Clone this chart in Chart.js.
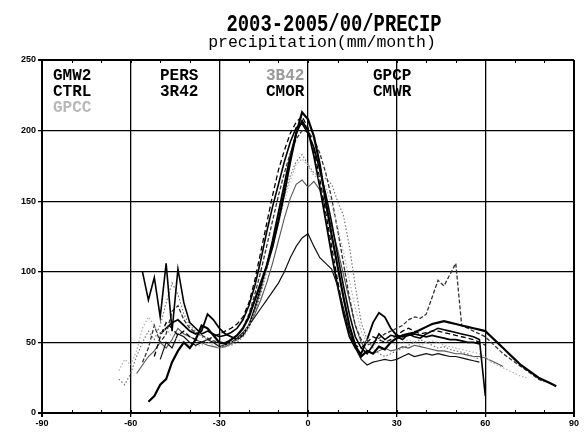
<!DOCTYPE html>
<html>
<head>
<meta charset="utf-8">
<script src="https://cdn.jsdelivr.net/npm/chart.js@4.4.1/dist/chart.umd.min.js"></script>
<style>
  html, body { margin: 0; padding: 0; background: #fff; }
  #wrap { width: 585px; height: 432px; position: relative; }
</style>
</head>
<body>
<div id="wrap"><canvas id="c" width="585" height="432"></canvas></div>
<script>
// Zonal-mean precipitation (mm/month) against latitude, 2003-2005
const titleText = '2003-2005/00/PRECIP';
const subtitleText = 'precipitation(mm/month)';
const xTicks = [-90, -60, -30, 0, 30, 60, 90];
const yTicks = [0, 50, 100, 150, 200, 250];

const lats = [
  -64, -62, -60, -58, -56, -54, -52, -50, -48, -46,
  -44, -42, -40, -38, -36, -34, -32, -30, -28, -26,
  -24, -22, -20, -18, -16, -14, -12, -10,  -8,  -6,
   -4,  -2,   0,   2,   4,   6,   8,  10,  12,  14,
   16,  18,  20,  22,  24,  26,  28,  30,  32,  34,
   36,  38,  40,  42,  44,  46,  48,  50,  52,  54,
   56,  58,  60,  62,  64,  66,  68,  70,  72,  74,
   76,  78,  80,  82,  84,  86
];

const GMW2 = [
  null, null, null, null, null,    8,   12,   20,   24,   36,
    44,   50,   46,   52,   62,   60,   55,   50,   49,   52,
    55,   60,   68,   80,   92,  104,  118,  136,  156,  178,
   198,  213,  208,  196,  176,  150,  126,  104,   82,   62,
    48,   40,   44,   42,   47,   45,   50,   53,   55,   56,
    57,   59,   61,   63,   64,   65,   64,   63,   62,   61,
    60,   59,   58,   54,   50,   46,   42,   38,   34,   31,
    28,   25,   23,   21,   19, null
];
const CTRL = [
  null, null, null, null,  100,   80,   96,   68,  106,   58,
   102,   78,   64,   60,   56,   58,   56,   54,   55,   57,
    60,   66,   76,   90,  108,  128,  146,  162,  178,  192,
   202,  205,  198,  188,  172,  155,  135,  112,   90,   70,
    54,   46,   42,   48,   56,   52,   55,   54,   52,   56,
    54,   53,   56,   58,   60,   59,   58,   57,   56,   55,
    54,   52,   12, null, null, null, null, null, null, null,
  null, null, null, null, null, null
];
const GPCC = [
    30,   38,   34,   44,   60,   68,   62,   56,   60,   54,
    52,   50,   48,   47,   48,   50,   48,   46,   48,   50,
    52,   56,   62,   72,   86,  102,  118,  134,  150,  165,
   176,  180,  175,  168,  166,  160,  148,  132,  114,   94,
    74,   58,   50,   48,   50,   52,   50,   48,   50,   52,
    50,   48,   50,   51,   50,   48,   47,   46,   45,   44,
    43,   42,   40,   36,   34,   32,   30,   28,   26,   25,
  null, null, null, null, null, null
];
const PERS = [
  null, null, null, null, null, null, null,   38,   50,   46,
    56,   54,   50,   48,   50,   52,   50,   47,   48,   50,
    53,   57,   62,   68,   74,   80,   86,   92,  100,  110,
   118,  124,  127,  118,  110,  106,  102,   90,   74,   58,
    46,   38,   34,   36,   37,   38,   37,   38,   40,   42,
    40,   41,   42,   41,   42,   41,   40,   40,   39,   38,
    37,   36, null, null, null, null, null, null, null, null,
  null, null, null, null, null, null
];
const R3R42 = [
  null, null, null, null,   36,   46,   62,   50,   56,   72,
    76,   66,   60,   57,   55,   53,   51,   50,   50,   52,
    55,   60,   70,   84,  100,  118,  136,  154,  170,  184,
   194,  200,  199,  194,  184,  170,  152,  130,  106,   82,
    62,   52,   48,   50,   53,   56,   58,   60,   62,   66,
    68,   67,   70,   82,   94,   90,   98,  106,   62,   60,
    58,   56,   54,   50,   46,   42,   39,   36,   33,   30,
    27,   24,   22, null, null, null
];
const B3B42 = [
    24,   20,   28,   40,   50,   58,   52,   62,   78,   92,
    84,   70,   62,   58,   54,   52,   50,   48,   47,   48,
    50,   54,   60,   70,   84,  100,  118,  136,  154,  168,
   178,  183,  176,  170,  168,  166,  162,  150,  140,  118,
    90,   64,   52,   46,   42,   40,   42,   44,   46,   48,
    50,   52,   50,   48,   46,   47,   45,   44,   43,   42,
    40,   38, null, null, null, null, null, null, null, null,
  null, null, null, null, null, null
];
const CMOR = [
  null, null, null, null, null, null,   40,   54,   64,   60,
    55,   58,   54,   52,   50,   52,   54,   56,   58,   60,
    63,   68,   78,   94,  114,  134,  154,  172,  186,  198,
   206,  210,  202,  186,  166,  142,  118,   94,   72,   56,
    48,   46,   50,   54,   52,   50,   52,   55,   58,   60,
    58,   56,   57,   58,   58,   57,   56,   55,   54,   53,
    52,   50,   48, null, null, null, null, null, null, null,
  null, null, null, null, null, null
];
const GPCP = [
  null, null, null, null, null, null, null,   56,   60,   64,
    66,   62,   58,   56,   58,   70,   66,   60,   56,   54,
    52,   55,   62,   74,   88,  104,  122,  142,  162,  182,
   198,  207,  200,  182,  160,  136,  112,   90,   70,   54,
    46,   42,   52,   64,   71,   68,   60,   55,   54,   55,
    56,   55,   54,   55,   54,   53,   52,   52,   51,   50,
    50,   49, null, null, null, null, null, null, null, null,
  null, null, null, null, null, null
];
const CMWR = [
  null, null, null,   28,   34,   40,   44,   50,   46,   52,
    60,   56,   54,   52,   50,   48,   47,   46,   47,   49,
    52,   56,   62,   70,   80,   92,  106,  122,  138,  152,
   162,  165,  160,  164,  158,  146,  132,  116,   98,   80,
    62,   50,   44,   42,   44,   46,   44,   45,   47,   46,
    48,   47,   46,   45,   44,   44,   43,   42,   42,   41,
    40,   40,   39,   37,   35,   33, null, null, null, null,
  null, null, null, null, null, null
];

// Line styles per product
const styles = {
  GMW2: { color: '#000', width: 2.2, dash: [] },
  CTRL: { color: '#000', width: 1.6, dash: [] },
  GPCC: { color: '#b0b0b0', width: 1.2, dash: [1.5, 2] },
  PERS: { color: '#111', width: 1.2, dash: [] },
  '3R42': { color: '#333', width: 1.3, dash: [4, 2] },
  '3B42': { color: '#777', width: 1.2, dash: [1.5, 2] },
  CMOR: { color: '#000', width: 1.3, dash: [5, 3] },
  GPCP: { color: '#000', width: 1.8, dash: [] },
  CMWR: { color: '#555', width: 1.1, dash: [] }
};
const seriesList = [
  ['GMW2', GMW2], ['CTRL', CTRL], ['GPCC', GPCC],
  ['PERS', PERS], ['3R42', R3R42], ['3B42', B3B42],
  ['CMOR', CMOR], ['GPCP', GPCP], ['CMWR', CMWR]
];

// Legend labels written inside the plot, in four columns
const legendCols = [
  [['GMW2', '#000'], ['CTRL', '#000'], ['GPCC', '#b8b8b8']],
  [['PERS', '#000'], ['3R42', '#000']],
  [['3B42', '#9a9a9a'], ['CMOR', '#000']],
  [['GPCP', '#000'], ['CMWR', '#000']]
];
const legendColX = [53, 160, 266, 373];

const datasets = seriesList.map(([name, vals]) => ({
  label: name,
  data: lats.map((x, i) => ({ x: x, y: vals[i] })),
  borderColor: styles[name].color,
  borderWidth: styles[name].width,
  borderDash: styles[name].dash,
  pointRadius: 0,
  tension: 0,
  spanGaps: false,
  fill: false
}));

const textPlugin = {
  id: 'textDecor',
  afterDraw(chart) {
    const ctx = chart.ctx;
    const xs = chart.scales.x, area = chart.chartArea;
    ctx.save();
    // minor ticks along top and bottom frame
    ctx.strokeStyle = '#000';
    ctx.lineWidth = 1;
    for (let v = -90; v <= 90; v += 10) {
      const px = Math.round(xs.getPixelForValue(v)) + 0.5;
      ctx.beginPath();
      ctx.moveTo(px, area.top); ctx.lineTo(px, area.top + 3);
      ctx.moveTo(px, area.bottom); ctx.lineTo(px, area.bottom - 3);
      ctx.stroke();
    }
    // title (condensed horizontally) and subtitle
    ctx.fillStyle = '#000';
    ctx.textAlign = 'center';
    ctx.textBaseline = 'alphabetic';
    ctx.save();
    ctx.translate(334, 31);
    ctx.scale(0.82, 1);
    ctx.font = 'bold 23px "Liberation Mono", "DejaVu Sans Mono", monospace';
    ctx.fillText(titleText, 0, 0);
    ctx.restore();
    ctx.font = '16.5px "Liberation Mono", "DejaVu Sans Mono", monospace';
    ctx.fillText(subtitleText, 322, 47);
    // legend labels
    ctx.textAlign = 'left';
    ctx.font = 'bold 16px "Liberation Mono", "DejaVu Sans Mono", monospace';
    legendCols.forEach((col, ci) => {
      col.forEach(([txt, color], ri) => {
        ctx.fillStyle = color;
        ctx.fillText(txt, legendColX[ci], 80 + ri * 16);
      });
    });
    ctx.restore();
  }
};

new Chart(document.getElementById('c'), {
  type: 'line',
  data: { datasets },
  options: {
    responsive: false,
    animation: false,
    devicePixelRatio: 1,
    layout: { padding: { top: 60, right: 11, left: 0, bottom: 0 } },
    plugins: { legend: { display: false }, title: { display: false }, tooltip: { enabled: false } },
    scales: {
      x: {
        type: 'linear',
        min: -90, max: 90,
        afterFit(scale) { scale.height = 19; },
        afterBuildTicks(scale) { scale.ticks = xTicks.map(v => ({ value: v })); },
        ticks: {
          autoSkip: false, maxRotation: 0, padding: 1, color: '#000',
          font: { family: '"Liberation Sans", Arial, sans-serif', weight: 'bold', size: 9 },
          callback: v => String(v)
        },
        grid: {
          color: '#000',
          lineWidth: c => (c.tick && (c.tick.value === 90 || c.tick.value === -90)) ? 2 : 1.3,
          tickLength: 4, drawTicks: true
        },
        border: { display: true, color: '#000', width: 2 }
      },
      y: {
        type: 'linear',
        min: 0, max: 250,
        afterFit(scale) { scale.width = 42; },
        afterBuildTicks(scale) { scale.ticks = yTicks.map(v => ({ value: v })); },
        ticks: {
          padding: 2, color: '#000',
          font: { family: '"Liberation Sans", Arial, sans-serif', weight: 'bold', size: 9 },
          callback: v => String(v)
        },
        grid: {
          color: '#000',
          lineWidth: c => (c.tick && (c.tick.value === 250 || c.tick.value === 0)) ? 2 : 1.3,
          tickLength: 4, drawTicks: true
        },
        border: { display: true, color: '#000', width: 2 }
      }
    }
  },
  plugins: [textPlugin]
});
</script>
</body>
</html>
